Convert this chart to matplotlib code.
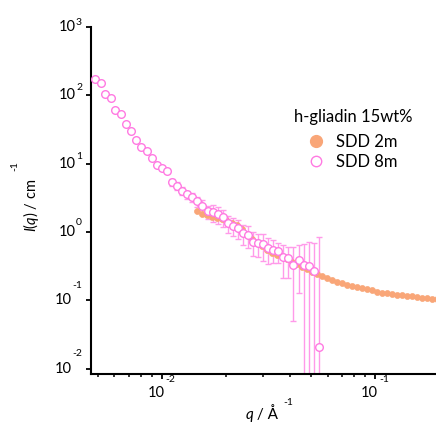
import matplotlib
matplotlib.use('Agg')
import matplotlib.pyplot as plt
from matplotlib.lines import Line2D
from matplotlib.transforms import blended_transform_factory, offset_copy
import matplotlib.ticker as mticker

plt.rcParams['font.family'] = ['Lato', 'DejaVu Sans']
plt.rcParams['mathtext.fontset'] = 'custom'
plt.rcParams['mathtext.rm'] = 'Lato'
plt.rcParams['mathtext.it'] = 'Lato:italic'

# ---------------- data ----------------
q_2m = [0.01464, 0.01545, 0.01631, 0.01722, 0.01817, 0.01918, 0.02025, 0.02137,
        0.02255, 0.02381, 0.02513, 0.02652, 0.02800, 0.02955, 0.03119, 0.03292,
        0.03475, 0.03668, 0.03871, 0.04086, 0.04313, 0.04553, 0.04805, 0.05072,
        0.05353, 0.05650, 0.05964, 0.06295, 0.06645, 0.07014, 0.07403, 0.07814,
        0.08248, 0.08706, 0.09189, 0.09699, 0.1024, 0.1081, 0.1141, 0.1204,
        0.1271, 0.1341, 0.1416, 0.1494, 0.1577, 0.1665, 0.1757, 0.1855, 0.1958]
I_2m = [2.00, 1.834, 1.745, 1.675, 1.603, 1.524, 1.449, 1.355,
        1.245, 1.106, 0.935, 0.790, 0.690, 0.613, 0.545, 0.498,
        0.465, 0.438, 0.402, 0.367, 0.340, 0.310, 0.287, 0.262,
        0.240, 0.223, 0.2085, 0.1963, 0.1853, 0.1762, 0.1675, 0.162,
        0.155, 0.1514, 0.1449, 0.1391, 0.1336, 0.1279, 0.1266, 0.1224,
        0.1208, 0.1196, 0.1156, 0.1144, 0.1099, 0.1092, 0.1069, 0.1062, 0.1035]

q_8m = [0.004893, 0.005176, 0.005439, 0.005784, 0.006060, 0.006465, 0.006802,
        0.007204, 0.007603, 0.007998, 0.008506, 0.008979, 0.009454, 0.009979,
        0.01057, 0.01120, 0.01177, 0.01245, 0.01311, 0.01387, 0.01464, 0.01545,
        0.01640, 0.01740, 0.01840, 0.01939, 0.02052, 0.02166, 0.02286, 0.02413,
        0.02547, 0.02688, 0.02838, 0.02995, 0.03161, 0.03336, 0.03521, 0.03717,
        0.03923, 0.04140, 0.04380, 0.04623, 0.04889, 0.05150, 0.05435]
I_8m = [171, 150.4, 103.1, 90.7, 60.5, 52.5, 38.5, 30.4, 22.2, 17.74, 15.35,
        12.24, 9.67, 8.56, 7.82, 5.36, 4.72, 4.02, 3.54, 3.25, 2.80, 2.44, 2.00,
        1.943, 1.834, 1.641, 1.341, 1.236, 1.133, 0.957, 0.904, 0.721, 0.683,
        0.661, 0.577, 0.551, 0.518, 0.435, 0.412, 0.329, 0.389, 0.334, 0.315,
        0.271, 0.0209]
err_8m = [2.0, 1.6, 1.1, 0.9, 0.6, 0.5, 0.4, 0.35, 0.3, 0.3, 0.35, 0.35, 0.4,
          0.5, 0.5, 0.64, 0.6, 0.55, 0.5, 0.47, 0.45, 0.45, 0.43, 0.54, 0.51,
          0.46, 0.39, 0.35, 0.35, 0.32, 0.32, 0.27, 0.25, 0.28, 0.24, 0.2, 0.17,
          0.22, 0.2, 0.28, 0.26, 0.34, 0.39, 0.43, 0.83]

y_exponents = [3, 2, 1, 0, -1, -2]
y_sup_raise = [5, 7.5, 7, 9.5, 14.5, 15]   # pixel raise of superscripts (style)
x_exponents = [-2, -1]

legend_title = 'h-gliadin 15wt%'
series_labels = ['SDD 2m', 'SDD 8m']

ORANGE = '#F9A678'
PINK = '#FF7AE2'
PINK_ERR = '#FF9AEA'

# ---------------- figure ----------------
W, H = 436, 423
fig = plt.figure(figsize=(W / 100, H / 100), dpi=100)
ax = fig.add_axes([91 / W, 1 - 374 / H, (436 - 91) / W, (374 - 27) / H])
ax.set_xscale('log', nonpositive='clip')
ax.set_yscale('log', nonpositive='clip')

ax.errorbar(q_8m, I_8m, yerr=err_8m, fmt='none', ecolor=PINK_ERR,
            elinewidth=1.0, capsize=2.2, capthick=1.0, zorder=2)
ax.plot(q_2m, I_2m, ls='none', marker='o', ms=4.3, mfc=ORANGE, mec=ORANGE,
        mew=0.5, zorder=3)
ax.plot(q_8m, I_8m, ls='none', marker='o', ms=5.5, mfc='white', mec=PINK,
        mew=1.0, zorder=4)

ax.set_xlim(0.004661, 0.1932)
ax.set_ylim(0.00834, 1000)

ax.yaxis.set_major_locator(mticker.FixedLocator([10.0 ** e for e in y_exponents]))
ax.yaxis.set_minor_locator(mticker.NullLocator())
ax.xaxis.set_major_locator(mticker.FixedLocator([10.0 ** e for e in x_exponents]))
ax.xaxis.set_minor_locator(mticker.LogLocator(base=10, subs=range(2, 10)))
ax.tick_params(axis='both', which='major', direction='out', length=3.5,
               width=1.3, color='black', labelleft=False, labelbottom=False)
ax.tick_params(axis='x', which='minor', direction='out', length=2.5, width=1.1,
               labelbottom=False)
for s in ['top', 'right']:
    ax.spines[s].set_visible(False)
for s in ['left', 'bottom']:
    ax.spines[s].set_linewidth(1.5)

fig.canvas.draw()
renderer = fig.canvas.get_renderer()

# y tick labels
ytr = blended_transform_factory(ax.transAxes, ax.transData)
for e, r in zip(y_exponents, y_sup_raise):
    sup = ax.text(0, 10.0 ** e, str(e), fontsize=7.5, ha='right', va='center',
                  transform=offset_copy(ytr, fig, x=-9, y=r, units='dots'))
    w = sup.get_window_extent(renderer).width
    ax.text(0, 10.0 ** e, '10', fontsize=10.5, ha='right', va='center',
            transform=offset_copy(ytr, fig, x=-9 - w - 0.5, y=0, units='dots'))

# x tick labels
xtr = blended_transform_factory(ax.transData, ax.transAxes)
for e in x_exponents:
    t10 = ax.text(0, 0, '10', fontsize=10.5)
    ts = ax.text(0, 0, str(e), fontsize=7.5)
    w10 = t10.get_window_extent(renderer).width
    ws = ts.get_window_extent(renderer).width
    t10.remove(); ts.remove()
    tot = w10 + 1 + ws
    ax.text(10.0 ** e, 0, '10', fontsize=10.5, ha='left', va='center',
            transform=offset_copy(xtr, fig, x=-tot / 2, y=-19, units='dots'))
    ax.text(10.0 ** e, 0, str(e), fontsize=7.5, ha='left', va='center',
            transform=offset_copy(xtr, fig, x=-tot / 2 + w10 + 1, y=-5.5, units='dots'))

# axis labels
fig.text(246 / W, 1 - 419 / H, 'q', fontsize=11, style='italic',
         ha='left', va='baseline')
fig.text(253 / W, 1 - 419 / H, ' / Å', fontsize=11, ha='left', va='baseline')
fig.text(283 / W, 1 - 402.5 / H, '-1', fontsize=7.5, ha='left', va='center')
fig.text(31 / W, 1 - 205 / H, r'$\mathit{I}$($\mathit{q}$) / cm', fontsize=10.5,
         rotation=90, ha='center', va='center')
fig.text(15 / W, 1 - 166.5 / H, '-1', fontsize=7.5, rotation=90, ha='center', va='center')

# legend
handles = [Line2D([], [], ls='none', marker='o', ms=8.5, mfc=ORANGE, mec=ORANGE),
           Line2D([], [], ls='none', marker='o', ms=7.5, mfc='white', mec=PINK, mew=1.0)]
leg = ax.legend(handles, series_labels, title=legend_title, frameon=False,
                fontsize=12, title_fontsize=12, loc='upper center',
                bbox_to_anchor=(353 / W, 1 - 109 / H), bbox_transform=fig.transFigure,
                borderaxespad=0, borderpad=0, handlelength=1.0, handletextpad=0.7,
                labelspacing=0.22)
leg._legend_box.sep = 6.5   # extra gap between title and entries (points)

fig.savefig('out.png', dpi=100)
